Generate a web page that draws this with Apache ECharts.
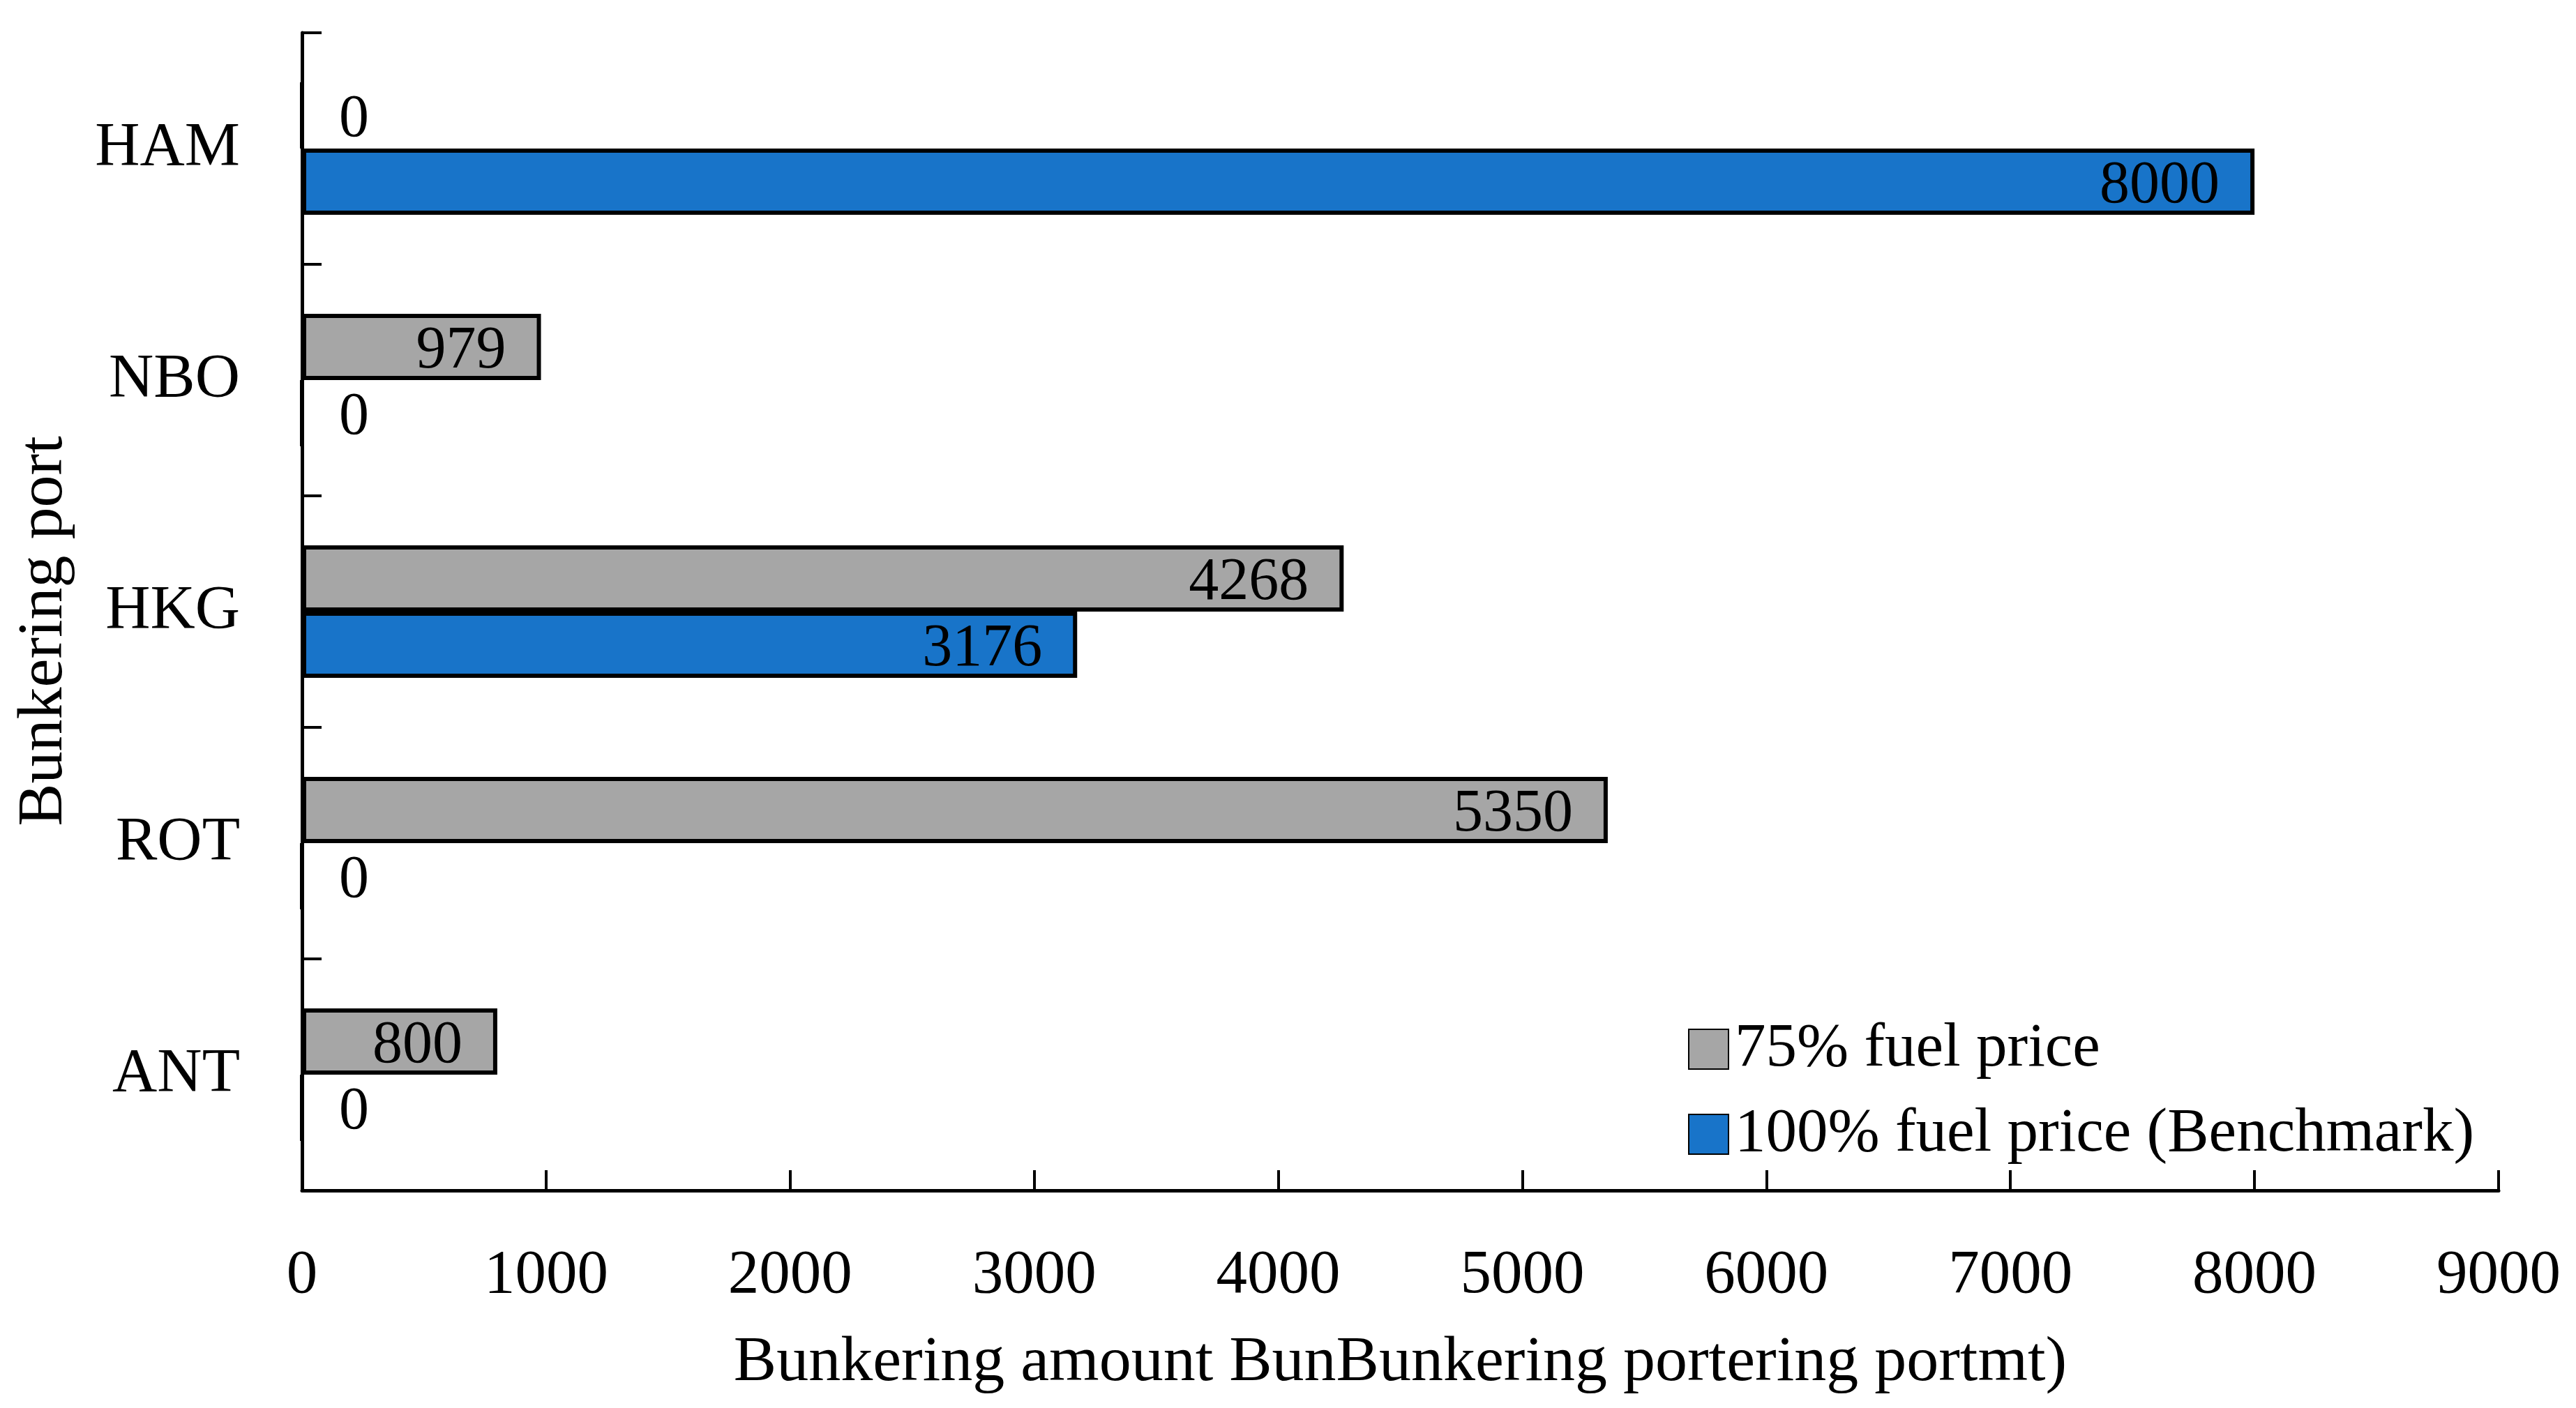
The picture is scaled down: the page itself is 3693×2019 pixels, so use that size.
<!DOCTYPE html>
<html>
<head>
<meta charset="utf-8">
<script src="https://cdn.jsdelivr.net/npm/echarts@6/dist/echarts.min.js"></script>
<style>
html,body{margin:0;padding:0;background:#fff;}
#chart{width:3693px;height:2019px;}
</style>
</head>
<body>
<div id="chart"></div>
<script>
var categories = ['HAM', 'NBO', 'HKG', 'ROT', 'ANT'];
var price75 = [0, 979, 4268, 5350, 800];
var price100 = [8000, 0, 3176, 0, 0];
var seriesNames = ['75% fuel price', '100% fuel price (Benchmark)'];
var xTicks = { min: 0, max: 9000, interval: 1000 };
var xTitle = 'Bunkering amount BunBunkering portering portmt)';
var yTitle = 'Bunkering port';

var FONT = '"Liberation Serif", "DejaVu Serif", serif';
var FS = 89;
var FS_TITLE = 92;
var FS_BAR = 86;

function toItems(arr) {
  return arr.map(function (v) {
    return {
      value: v,
      label: v === 0 ? { position: 'right', distance: 50 } : { position: 'insideRight', distance: 50 }
    };
  });
}

var chart = echarts.init(document.getElementById('chart'), null, { renderer: 'canvas' });
chart.setOption({
  backgroundColor: '#ffffff',
  animation: false,
  textStyle: { fontFamily: FONT, color: '#000' },
  grid: { left: 433, right: 111, top: 47, bottom: 312, containLabel: false },
  legend: {
    orient: 'vertical',
    left: 2415,
    top: 1455,
    itemWidth: 57,
    itemHeight: 57,
    itemGap: 33,
    icon: 'rect',
    data: seriesNames,
    textStyle: { fontFamily: FONT, fontSize: FS, color: '#000', padding: [0, 0, 0, 4] }
  },
  xAxis: {
    type: 'value',
    min: xTicks.min,
    max: xTicks.max,
    interval: xTicks.interval,
    splitLine: { show: false },
    axisLine: { show: true, lineStyle: { color: '#000', width: 5 } },
    axisTick: { show: true, inside: true, length: 29, lineStyle: { color: '#000', width: 4 } },
    axisLabel: { fontFamily: FONT, fontSize: FS, color: '#000', margin: 78, formatter: function (v) { return String(v); } },
    name: xTitle,
    nameLocation: 'middle',
    nameGap: 202,
    nameTextStyle: { fontFamily: FONT, fontSize: FS_TITLE, color: '#000' }
  },
  yAxis: {
    type: 'category',
    data: categories,
    inverse: true,
    axisLine: { show: true, lineStyle: { color: '#000', width: 5 } },
    axisTick: { show: true, inside: true, length: 28, lineStyle: { color: '#000', width: 4 } },
    axisLabel: { fontFamily: FONT, fontSize: FS, color: '#000', margin: 89, padding: [8, 0, 0, 0] },
    name: yTitle,
    nameLocation: 'middle',
    nameRotate: 90,
    nameGap: 323,
    nameTextStyle: { fontFamily: FONT, fontSize: FS_TITLE, color: '#000', padding: [0, 56, 0, 0] }
  },
  series: [
    {
      name: seriesNames[0],
      type: 'bar',
      data: toItems(price75),
      barWidth: 95,
      barGap: '0%',
      itemStyle: { color: '#A6A6A6', borderColor: '#000', borderWidth: 6 },
      label: { show: true, fontFamily: FONT, fontSize: FS_BAR, color: '#000', offset: [0, 7] }
    },
    {
      name: seriesNames[1],
      type: 'bar',
      data: toItems(price100),
      barWidth: 95,
      barGap: '0%',
      itemStyle: { color: '#1874C9', borderColor: '#000', borderWidth: 6 },
      label: { show: true, fontFamily: FONT, fontSize: FS_BAR, color: '#000', offset: [0, 7] }
    }
  ]
});
</script>
</body>
</html>
